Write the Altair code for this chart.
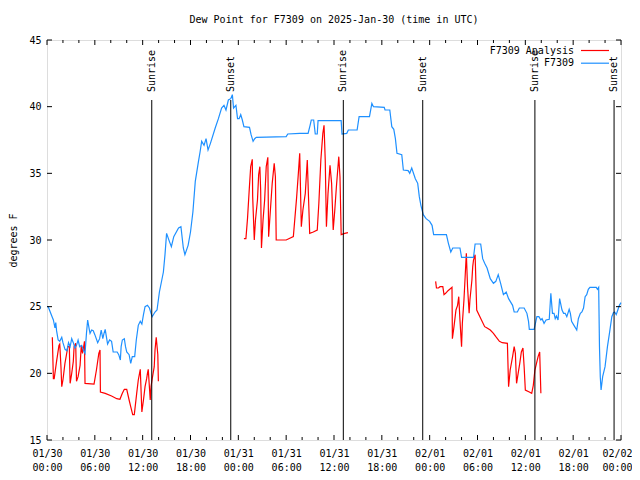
import altair as alt
import pandas as pd

# Time in hours since 2025-01-30 00:00 UTC
blue_t = [0.0, 0.15, 0.6, 0.8, 1.0, 1.1, 1.2, 1.4, 1.6, 1.85, 2.0, 2.26, 2.5, 2.7, 2.9, 3.1, 3.3, 3.5, 3.7, 3.9,
          4.1, 4.35, 4.6, 4.77, 4.95, 5.1, 5.3, 5.4, 5.6, 5.8, 6.0, 6.36, 6.6, 6.8, 7.0, 7.15, 7.3, 7.6, 7.85, 8.1,
          8.3, 8.8, 9.0, 9.2, 9.3, 9.45, 9.7, 9.85, 10.0, 10.3, 10.5, 10.7, 11.0, 11.2, 11.45, 11.7, 11.9, 12.1, 12.3, 12.6,
          12.85, 13.05, 13.2, 13.55, 13.8, 14.1, 14.4, 14.6, 14.8, 15.0, 15.35, 15.6, 15.9, 16.5, 16.8, 17.1, 17.3, 17.7, 18.0, 18.3,
          18.6, 19.0, 19.2, 19.4, 19.7, 19.95, 20.2, 20.5, 21.1, 21.5, 21.9, 22.2, 22.45, 22.75, 23.05, 23.25, 23.4, 23.7, 23.9, 24.1,
          24.3, 24.5, 24.7, 25.4, 25.6, 25.85, 26.05, 26.25, 30.0, 30.2, 31.7, 32.75, 33.0, 33.15, 33.45, 33.65, 33.9, 34.0, 36.9, 37.0,
          37.6, 37.8, 38.9, 39.15, 40.45, 40.75, 40.95, 42.3, 42.4, 43.0, 43.25, 43.5, 43.7, 43.9, 44.5, 44.7, 45.3, 45.5, 45.75, 46.2,
          46.5, 46.7, 46.9, 47.2, 47.55, 48.0, 48.3, 48.5, 50.1, 50.35, 50.65, 50.9, 51.8, 52.0, 53.5, 53.7, 54.4, 54.65, 54.9, 55.2,
          55.6, 56.0, 56.3, 56.6, 56.9, 57.25, 57.6, 57.9, 58.4, 58.6, 59.0, 59.25, 59.85, 60.2, 60.4, 60.5, 61.1, 61.45, 61.7, 61.95,
          62.1, 62.35, 62.6, 63.0, 63.2, 63.4, 63.6, 63.75, 63.9, 64.1, 64.3, 64.6, 64.8, 65.0, 65.2, 65.5, 65.65, 65.8, 66.1, 66.45,
          66.65, 66.9, 67.1, 67.3, 67.5, 67.7, 67.9, 68.1, 68.9, 69.05, 69.2, 69.3, 69.4, 69.5, 69.7, 70.0, 70.3, 70.55, 70.85, 71.05,
          71.2, 71.4, 71.6, 71.8, 72.0]
blue_v = [25.0, 25.0, 24.3, 24.0, 23.4, 23.8, 23.2, 22.5, 22.4, 22.7, 22.3, 21.8, 21.7, 22.3, 22.0, 22.6, 22.3, 21.9, 22.1, 22.5,
          22.0, 22.1, 21.7, 21.5, 23.0, 24.0, 23.3, 23.0, 23.25, 23.2, 22.9, 22.3, 22.6, 23.25, 22.6, 23.0, 23.3, 22.2, 22.5, 22.4,
          21.6, 21.6, 21.4, 21.0, 22.0, 22.5, 22.6, 22.0, 21.6, 21.4, 20.75, 21.25, 21.25, 22.5, 23.6, 23.9, 23.7, 24.4, 25.0, 25.1,
          24.9, 24.5, 24.25, 24.6, 24.75, 26.1, 27.0, 27.6, 28.9, 30.5, 29.9, 29.5, 30.25, 30.9, 31.0, 29.4, 28.9, 29.6, 30.6, 32.1,
          34.4, 35.9, 36.6, 37.4, 37.1, 37.6, 36.75, 37.25, 38.4, 39.1, 39.9, 40.1, 39.75, 40.5, 40.6, 40.9, 39.9, 40.1, 39.1, 39.1,
          39.4, 39.0, 38.5, 38.45, 37.9, 37.4, 37.6, 37.7, 37.75, 37.95, 38.0, 38.0, 38.6, 39.0, 39.0, 37.95, 37.95, 38.95, 38.95, 37.95,
          38.0, 38.25, 38.25, 39.25, 39.25, 40.25, 40.0, 39.95, 39.75, 39.75, 38.5, 38.3, 37.6, 36.5, 36.4, 35.25, 35.2, 35.0, 35.4, 34.6,
          34.25, 33.25, 32.6, 31.9, 31.6, 31.4, 31.1, 30.4, 30.4, 29.75, 29.1, 29.4, 29.4, 28.7, 28.7, 29.7, 29.7, 28.6, 28.25, 27.9,
          27.1, 26.75, 26.9, 27.4, 26.75, 25.9, 26.1, 25.6, 25.1, 24.6, 24.6, 24.9, 24.9, 24.5, 23.9, 23.3, 23.3, 24.25, 24.25, 24.0,
          24.1, 23.75, 24.0, 24.05, 26.0, 24.5, 24.5, 24.1, 24.3, 24.0, 25.6, 24.75, 24.5, 24.5, 24.25, 24.8, 24.5, 23.9, 23.6, 23.25,
          24.1, 24.5, 24.6, 24.9, 25.75, 25.9, 26.3, 26.45, 26.45, 26.3, 26.45, 22.0, 19.75, 18.75, 19.75, 20.5, 22.0, 23.0, 24.25, 24.55,
          24.6, 24.4, 24.75, 25.1, 25.3]

red1_t = [0.67, 0.8, 0.9, 1.2, 1.5, 1.6, 1.75, 1.85, 2.0, 2.25, 2.5, 2.6, 2.8, 2.9, 3.1, 3.3, 3.4, 3.6, 3.7, 3.9,
          4.15, 4.3, 4.45, 4.6, 4.7, 4.77, 5.9, 6.2, 6.5, 6.65, 6.7, 7.3, 8.1, 8.75, 9.15, 9.45, 9.7, 10.0, 10.3, 10.5,
          10.75, 10.95, 11.25, 11.45, 11.7, 11.9, 12.1, 12.3, 12.5, 12.6, 12.7, 12.95, 13.05, 13.2, 13.45, 13.55, 13.7, 13.9, 13.97]
red1_v = [22.7, 19.6, 19.6, 20.9, 22.1, 22.2, 20.5, 19.0, 19.5, 20.75, 21.6, 22.0, 22.0, 19.25, 20.0, 20.9, 22.0, 22.25, 19.4, 19.75,
          20.6, 22.1, 21.5, 22.0, 22.4, 19.25, 19.2, 20.25, 21.5, 21.75, 18.6, 18.5, 18.3, 18.1, 18.05, 18.5, 18.8, 18.8, 18.0, 17.5,
          16.9, 16.9, 18.5, 19.5, 20.3, 17.1, 18.0, 19.0, 19.6, 20.0, 20.3, 18.0, 19.0, 19.6, 20.5, 21.75, 22.7, 21.4, 19.4]

red2_t = [24.7, 24.95, 25.15, 25.35, 25.55, 25.75, 25.8, 26.0, 26.15, 26.4, 26.55, 26.7, 26.8, 26.9, 27.1, 27.3, 27.5, 27.7, 27.8, 28.05,
          28.25, 28.5, 28.65, 28.75, 30.0, 30.9, 31.3, 31.5, 31.7, 31.9, 32.1, 32.4, 32.65, 32.8, 32.95, 33.4, 33.9, 34.1, 34.35, 34.6,
          34.75, 34.9, 35.05, 35.25, 35.5, 35.7, 35.9, 36.1, 36.3, 36.6, 36.75, 36.9, 37.35, 37.75]
red2_v = [30.1, 30.1, 31.6, 33.6, 35.5, 36.05, 33.25, 30.0, 31.5, 33.0, 34.9, 35.5, 33.75, 29.4, 31.5, 33.0, 35.5, 36.2, 30.25, 32.5,
          34.25, 35.75, 34.75, 30.0, 30.0, 30.25, 33.1, 34.75, 36.5, 31.0, 32.25, 33.5, 36.0, 33.25, 30.5, 30.6, 30.75, 32.75, 36.0, 38.0,
          38.6, 36.0, 31.0, 33.5, 35.6, 34.25, 30.75, 32.25, 34.0, 36.25, 34.75, 30.4, 30.5, 30.55]

red3_t = [48.75, 48.85, 49.1, 49.3, 49.65, 49.8, 50.0, 50.3, 50.8, 50.85, 51.05, 51.3, 51.5, 51.65, 51.8, 52.0, 52.1, 52.3, 52.45, 52.6,
          52.75, 52.95, 53.05, 53.3, 53.4, 53.5, 53.7, 53.9, 54.3, 54.9, 55.2, 55.6, 56.0, 56.3, 56.75, 57.1, 57.75, 57.9, 58.1, 58.4,
          58.6, 58.75, 58.9, 59.1, 59.3, 59.5, 59.7, 59.85, 60.0, 60.5, 60.8, 61.0, 61.2, 61.4, 61.6, 61.8, 61.95]
red3_v = [26.9, 26.4, 26.4, 26.5, 26.5, 25.9, 26.0, 26.2, 26.45, 22.6, 23.5, 24.75, 25.1, 25.75, 24.0, 22.0, 23.75, 25.5, 27.25, 29.0,
          26.5, 24.5, 25.5, 27.0, 28.0, 28.5, 28.9, 24.75, 24.25, 23.5, 23.4, 23.25, 23.0, 22.75, 22.4, 22.3, 22.25, 19.0, 20.25, 21.25,
          22.0, 21.5, 19.25, 20.0, 20.75, 21.6, 21.9, 20.5, 18.75, 18.6, 18.5, 19.1, 20.25, 20.75, 21.25, 21.6, 18.5]

sun_t = [13.14, 23.05, 37.17, 47.13, 61.2, 71.13]
sun_label = ["Sunrise", "Sunset", "Sunrise", "Sunset", "Sunrise", "Sunset"]

x_major = [0, 6, 12, 18, 24, 30, 36, 42, 48, 54, 60, 66, 72]
x_minor = [2, 4, 8, 10, 14, 16, 20, 22, 26, 28, 32, 34, 38, 40, 44, 46, 50, 52, 56, 58, 62, 64, 68, 70]
y_ticks = [15, 20, 25, 30, 35, 40, 45]

series_names = ["F7309 Analysis", "F7309"]
series_colors = ["#ff0000", "#1e90ff"]

FONT = "DejaVu Sans Mono"
W, H = 574, 400

blue_df = pd.DataFrame({"t": blue_t, "v": blue_v})
blue_df["idx"] = range(len(blue_df))
red_parts = []
for k, (tt, vv) in enumerate([(red1_t, red1_v), (red2_t, red2_v), (red3_t, red3_v)]):
    d = pd.DataFrame({"t": tt, "v": vv})
    d["seg"] = k
    red_parts.append(d)
red_df = pd.concat(red_parts, ignore_index=True)
red_df["idx"] = range(len(red_df))
sun_df = pd.DataFrame({"t": sun_t, "label": sun_label})
major_df = pd.DataFrame({"t": x_major})
minor_df = pd.DataFrame({"t": x_minor})
ytick_df = pd.DataFrame({"v": y_ticks})
one = pd.DataFrame({"a": [0]})

xscale = alt.Scale(domain=[0, 72], nice=False, zero=False)
yscale = alt.Scale(domain=[15, 45], nice=False, zero=False)
T0 = 1738195200000
xaxis = alt.Axis(
    values=x_major, ticks=False, domain=False, grid=False, title=None,
    labelExpr=f"[utcFormat({T0} + datum.value*3600000, '%m/%d'), utcFormat({T0} + datum.value*3600000, '%H:%M')]",
    labelFont=FONT, labelFontSize=10, labelColor="black", labelPadding=8, labelLineHeight=14,
    labelFlush=False, labelOverlap=False, labelAngle=0,
    labelOffset={"condition": {"test": "datum.value == 72", "value": -4}, "value": 0},
)
yaxis = alt.Axis(
    values=y_ticks, ticks=False, domain=False, grid=False, title="degrees F",
    labelFont=FONT, labelFontSize=10, labelColor="black", labelPadding=6, labelFlush=False,
    titleFont=FONT, titleFontSize=10, titleFontWeight="normal", titleColor="black",
    titleX=-34, titleY=200, titleAngle=270, titleAlign="center", titleBaseline="middle",
)
X = alt.X("t:Q", scale=xscale, axis=xaxis)
Y = alt.Y("v:Q", scale=yscale, axis=yaxis)

red_line = alt.Chart(red_df).mark_line(color=series_colors[0], strokeWidth=1.2).encode(
    x=X, y=Y, detail="seg:N", order="idx:Q")
blue_line = alt.Chart(blue_df).mark_line(color=series_colors[1], strokeWidth=1.2).encode(
    x=X, y=Y, order="idx:Q")

sun_rule = alt.Chart(sun_df).mark_rule(color="black", strokeWidth=1).encode(
    x=X, y=alt.value(60), y2=alt.value(H))
sun_text = alt.Chart(sun_df).mark_text(angle=270, align="left", baseline="middle",
                                       font=FONT, fontSize=10, color="black").encode(
    x=X, y=alt.value(52), text="label:N")

maj_bot = alt.Chart(major_df).mark_rule(color="black").encode(x=X, y=alt.value(H - 5), y2=alt.value(H))
maj_top = alt.Chart(major_df).mark_rule(color="black").encode(x=X, y=alt.value(0), y2=alt.value(5))
min_bot = alt.Chart(minor_df).mark_rule(color="black").encode(x=X, y=alt.value(H - 3), y2=alt.value(H))
min_top = alt.Chart(minor_df).mark_rule(color="black").encode(x=X, y=alt.value(0), y2=alt.value(3))
yt_left = alt.Chart(ytick_df).mark_rule(color="black").encode(y=Y, x=alt.value(0), x2=alt.value(5))
yt_right = alt.Chart(ytick_df).mark_rule(color="black").encode(y=Y, x=alt.value(W - 5), x2=alt.value(W))

leg_layers = []
for i, (name, col) in enumerate(zip(series_names, series_colors)):
    yy = 10.5 + i * 12.7
    leg_layers.append(alt.Chart(one).mark_text(align="right", baseline="middle", font=FONT,
                                               fontSize=10, color="black").encode(
        x=alt.value(527), y=alt.value(yy), text=alt.value(name)))
    leg_layers.append(alt.Chart(one).mark_rule(color=col, strokeWidth=1.2).encode(
        x=alt.value(534), x2=alt.value(562), y=alt.value(yy)))

chart = alt.layer(
    red_line, blue_line, sun_rule, sun_text, maj_bot, maj_top, min_bot, min_top, yt_left, yt_right,
    *leg_layers,
).properties(
    width=W, height=H,
    title=alt.Title("Dew Point for F7309 on 2025-Jan-30 (time in UTC)", font=FONT, fontSize=10,
                    fontWeight="normal", color="black", anchor="middle", offset=10),
    autosize=alt.AutoSizeParams(type="none"),
    padding={"left": 39, "top": 32, "right": 11, "bottom": 32},
).configure_view(stroke="black", strokeWidth=1).configure(background="white")

chart.save("out.html", embed_options={"renderer": "svg", "actions": False})
